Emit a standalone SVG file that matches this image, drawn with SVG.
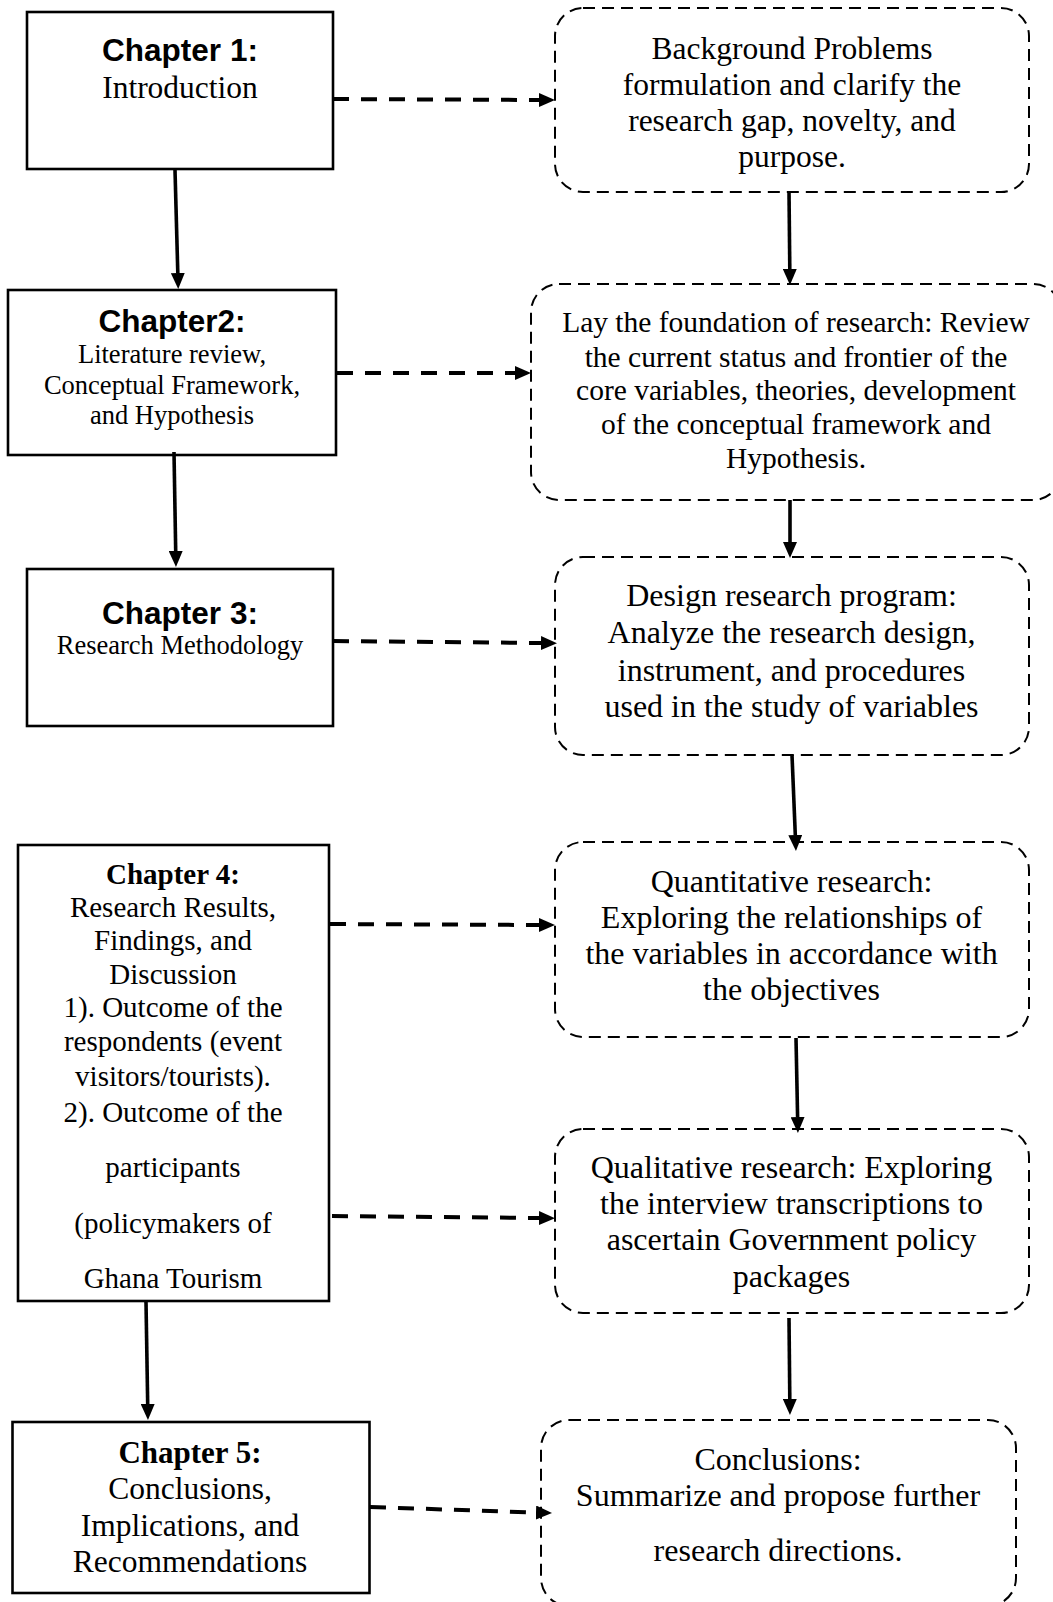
<svg xmlns="http://www.w3.org/2000/svg" width="1053" height="1602" viewBox="0 0 1053 1602">
<style>
.box{fill:#fff;stroke:#000;stroke-width:2.6}
.rbox{fill:#fff;stroke:#000;stroke-width:2;stroke-dasharray:12 7}
.solid{fill:none;stroke:#000;stroke-width:3.6}
.dash{fill:none;stroke:#000;stroke-width:4;stroke-dasharray:16 12}
.hd{font-family:"Liberation Sans",Arial,sans-serif;font-weight:bold;text-anchor:middle;fill:#000}
.hdt{font-family:"Liberation Serif","Times New Roman",serif;font-weight:bold;text-anchor:middle;fill:#000}
.tx{font-family:"Liberation Serif","Times New Roman",serif;text-anchor:middle;fill:#000}
</style>
<defs>
<marker id="ah" viewBox="0 0 16 14" refX="0" refY="7" markerWidth="16" markerHeight="14" markerUnits="userSpaceOnUse" orient="auto">
<path d="M0,0 L16,7 L0,14 z" fill="#000"/>
</marker>
</defs>
<rect width="1053" height="1602" fill="#fff"/>

<g id="ch1">
<rect class="box" x="27" y="12" width="306" height="157"/>
<text class="hd" x="180" y="61" font-size="31.5">Chapter 1:</text>
<text class="tx" x="180" y="97.5" font-size="31.5">Introduction</text>
</g>

<g id="ch2">
<rect class="box" x="8" y="290" width="328" height="165"/>
<text class="hd" x="172" y="332" font-size="31.5">Chapter2:</text>
<text class="tx" x="172" y="362.5" font-size="26.5">Literature review,</text>
<text class="tx" x="172" y="394" font-size="26.5">Conceptual Framework,</text>
<text class="tx" x="172" y="424" font-size="26.5">and Hypothesis</text>
</g>

<g id="ch3">
<rect class="box" x="27" y="569" width="306" height="157"/>
<text class="hd" x="180" y="623.5" font-size="31.5">Chapter 3:</text>
<text class="tx" x="180" y="654" font-size="26.5">Research Methodology</text>
</g>

<g id="ch4">
<rect class="box" x="18" y="845" width="311" height="456"/>
<text class="hdt" x="173" y="883.5" font-size="29">Chapter 4:</text>
<text class="tx" x="173" y="916.5" font-size="29">Research Results,</text>
<text class="tx" x="173" y="950" font-size="29">Findings, and</text>
<text class="tx" x="173" y="984" font-size="29">Discussion</text>
<text class="tx" x="173" y="1017" font-size="29">1). Outcome of the</text>
<text class="tx" x="173" y="1051" font-size="29">respondents (event</text>
<text class="tx" x="173" y="1086" font-size="29">visitors/tourists).</text>
<text class="tx" x="173" y="1121.5" font-size="29">2). Outcome of the</text>
<text class="tx" x="173" y="1177" font-size="29">participants</text>
<text class="tx" x="173" y="1233" font-size="29">(policymakers of</text>
<text class="tx" x="173" y="1288" font-size="29">Ghana Tourism</text>
</g>

<g id="ch5">
<rect class="box" x="12.5" y="1422" width="357" height="171"/>
<text class="hdt" x="190" y="1463" font-size="31">Chapter 5:</text>
<text class="tx" x="190" y="1499" font-size="31.5">Conclusions,</text>
<text class="tx" x="190" y="1536" font-size="31.5">Implications, and</text>
<text class="tx" x="190" y="1572" font-size="31.5">Recommendations</text>
</g>

<g id="bg">
<rect class="rbox" x="555" y="8" width="474" height="184" rx="28" ry="28"/>
<text class="tx" x="792" y="58.5" font-size="31.5">Background Problems</text>
<text class="tx" x="792" y="94.5" font-size="31.5">formulation and clarify the</text>
<text class="tx" x="792" y="131" font-size="31.5">research gap, novelty, and</text>
<text class="tx" x="792" y="167" font-size="31.5">purpose.</text>
</g>

<g id="lay">
<rect class="rbox" x="531" y="284" width="530" height="216" rx="28" ry="28"/>
<text class="tx" x="796" y="331.5" font-size="29.5">Lay the foundation of research: Review</text>
<text class="tx" x="796" y="366.5" font-size="29.5">the current status and frontier of the</text>
<text class="tx" x="796" y="400" font-size="29.5">core variables, theories, development</text>
<text class="tx" x="796" y="433.5" font-size="29.5">of the conceptual framework and</text>
<text class="tx" x="796" y="468" font-size="29.5">Hypothesis.</text>
</g>

<g id="design">
<rect class="rbox" x="555" y="557" width="474" height="198" rx="28" ry="28"/>
<text class="tx" x="791.5" y="605.5" font-size="32">Design research program:</text>
<text class="tx" x="791.5" y="643" font-size="32">Analyze the research design,</text>
<text class="tx" x="791.5" y="680.5" font-size="32">instrument, and procedures</text>
<text class="tx" x="791.5" y="716.5" font-size="32">used in the study of variables</text>
</g>

<g id="quant">
<rect class="rbox" x="555" y="842" width="474" height="195" rx="28" ry="28"/>
<text class="tx" x="791.5" y="891.5" font-size="32">Quantitative research:</text>
<text class="tx" x="791.5" y="927.5" font-size="32">Exploring the relationships of</text>
<text class="tx" x="791.5" y="964" font-size="32">the variables in accordance with</text>
<text class="tx" x="791.5" y="1000" font-size="32">the objectives</text>
</g>

<g id="qual">
<rect class="rbox" x="555" y="1129" width="474" height="184" rx="28" ry="28"/>
<text class="tx" x="791.5" y="1177.5" font-size="32">Qualitative research: Exploring</text>
<text class="tx" x="791.5" y="1214" font-size="32">the interview transcriptions to</text>
<text class="tx" x="791.5" y="1250" font-size="32">ascertain Government policy</text>
<text class="tx" x="791.5" y="1286.5" font-size="32">packages</text>
</g>

<g id="concl">
<rect class="rbox" x="541" y="1420" width="475" height="186" rx="28" ry="28"/>
<text class="tx" x="778" y="1469.5" font-size="32">Conclusions:</text>
<text class="tx" x="778" y="1506" font-size="32">Summarize and propose further</text>
<text class="tx" x="778" y="1561" font-size="32">research directions.</text>
</g>

<g id="connectors">
<line class="solid" x1="175" y1="170" x2="177.8" y2="273" marker-end="url(#ah)"/>
<line class="solid" x1="174" y1="452" x2="175.7" y2="551" marker-end="url(#ah)"/>
<line class="solid" x1="146" y1="1302" x2="147.7" y2="1404" marker-end="url(#ah)"/>
<line class="solid" x1="789" y1="191" x2="789.8" y2="269" marker-end="url(#ah)"/>
<line class="solid" x1="790" y1="500" x2="790" y2="542" marker-end="url(#ah)"/>
<line class="solid" x1="792" y1="755" x2="795.3" y2="835" marker-end="url(#ah)"/>
<line class="solid" x1="796" y1="1038" x2="797.6" y2="1117" marker-end="url(#ah)"/>
<line class="solid" x1="789" y1="1318" x2="789.8" y2="1399" marker-end="url(#ah)"/>
<line class="dash" x1="333" y1="99" x2="539" y2="100" marker-end="url(#ah)"/>
<line class="dash" x1="337" y1="373" x2="515" y2="373" marker-end="url(#ah)"/>
<line class="dash" x1="333" y1="641" x2="541" y2="643" marker-end="url(#ah)"/>
<line class="dash" x1="330" y1="924" x2="539" y2="925" marker-end="url(#ah)"/>
<line class="dash" x1="332" y1="1216" x2="539" y2="1218" marker-end="url(#ah)"/>
<line class="dash" x1="370" y1="1507" x2="536" y2="1512.5" marker-end="url(#ah)"/>
</g>
</svg>
